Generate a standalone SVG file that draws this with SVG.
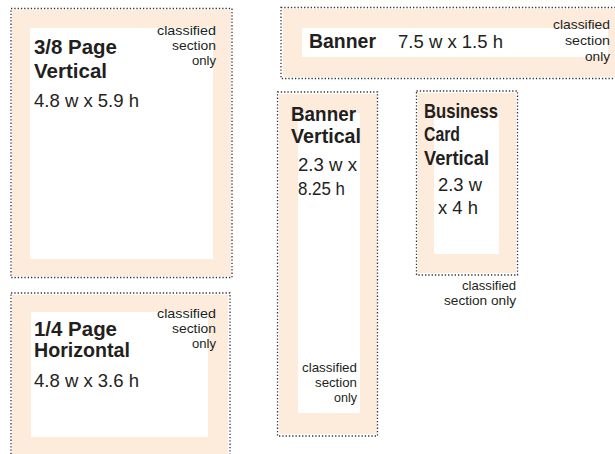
<svg xmlns="http://www.w3.org/2000/svg" width="615" height="454" viewBox="0 0 615 454">
<style>
.dot{fill:none;stroke:#333;stroke-width:1.3;stroke-dasharray:1.3 2}
.peach{fill:#fdebdc}
.white{fill:#fff}
text{font-family:"Liberation Sans Narrow","Liberation Sans",Arial,sans-serif;fill:#231f20}
.t{font-weight:bold;font-size:20.5px}
.t2{font-weight:bold;font-size:19.3px}
.d{font-size:19px}
.c{font-size:13.5px;text-anchor:end}
</style>
<rect width="615" height="454" fill="#fff"/>
<g id="node-38-vertical">
<rect class="peach" x="12" y="10" width="219" height="266"/>
<rect class="white" x="30" y="28" width="183" height="231"/>
<rect class="dot" x="11" y="8.5" width="221" height="269"/>
<text class="t"><tspan x="34" y="54" textLength="83" lengthAdjust="spacingAndGlyphs">3/8 Page</tspan><tspan x="34" y="78" textLength="73" lengthAdjust="spacingAndGlyphs">Vertical</tspan></text>
<text class="d" x="34" y="107" textLength="105" lengthAdjust="spacingAndGlyphs">4.8 w x 5.9 h</text>
<text class="c"><tspan x="216" y="34.5" textLength="59" lengthAdjust="spacingAndGlyphs">classified</tspan><tspan x="216" y="49.7" textLength="44" lengthAdjust="spacingAndGlyphs">section</tspan><tspan x="216" y="64.9" textLength="24" lengthAdjust="spacingAndGlyphs">only</tspan></text>
</g>
<g id="node-14-horizontal">
<rect class="peach" x="12" y="295" width="216" height="170"/>
<rect class="white" x="31" y="312" width="177" height="125"/>
<rect class="dot" x="11" y="293" width="219" height="180"/>
<text class="t2"><tspan x="34" y="335.5" textLength="83" lengthAdjust="spacingAndGlyphs">1/4 Page</tspan><tspan x="34" y="357.3" textLength="96" lengthAdjust="spacingAndGlyphs">Horizontal</tspan></text>
<text class="d" x="34" y="387" textLength="105" lengthAdjust="spacingAndGlyphs">4.8 w x 3.6 h</text>
<text class="c"><tspan x="216" y="317.5" textLength="59" lengthAdjust="spacingAndGlyphs">classified</tspan><tspan x="216" y="332.7" textLength="44" lengthAdjust="spacingAndGlyphs">section</tspan><tspan x="216" y="347.9" textLength="24" lengthAdjust="spacingAndGlyphs">only</tspan></text>
</g>
<g id="node-banner">
<rect class="peach" x="283" y="9" width="340" height="68"/>
<rect class="white" x="302" y="28" width="306" height="29"/>
<rect class="dot" x="281" y="7.5" width="350" height="71"/>
<text class="t" x="309" y="48" textLength="67" lengthAdjust="spacingAndGlyphs">Banner</text>
<text class="d" x="398" y="48" textLength="105" lengthAdjust="spacingAndGlyphs">7.5 w x 1.5 h</text>
<text class="c"><tspan x="610" y="29" textLength="57" lengthAdjust="spacingAndGlyphs">classified</tspan><tspan x="610" y="45" textLength="45" lengthAdjust="spacingAndGlyphs">section</tspan><tspan x="610" y="61" textLength="25" lengthAdjust="spacingAndGlyphs">only</tspan></text>
</g>
<g id="node-banner-vertical">
<rect class="peach" x="279" y="94" width="98" height="340"/>
<rect class="white" x="298" y="113" width="62" height="300"/>
<rect class="dot" x="277.5" y="92" width="100" height="344"/>
<text class="t2"><tspan x="291" y="121" textLength="65" lengthAdjust="spacingAndGlyphs">Banner</tspan><tspan x="291" y="142.8" textLength="70" lengthAdjust="spacingAndGlyphs">Vertical</tspan></text>
<text class="d"><tspan x="298" y="171" textLength="59" lengthAdjust="spacingAndGlyphs">2.3 w x</tspan><tspan x="298" y="195" textLength="47" lengthAdjust="spacingAndGlyphs">8.25 h</tspan></text>
<text class="c"><tspan x="357" y="371.5" textLength="55" lengthAdjust="spacingAndGlyphs">classified</tspan><tspan x="357" y="386.7" textLength="42" lengthAdjust="spacingAndGlyphs">section</tspan><tspan x="357" y="401.9" textLength="23" lengthAdjust="spacingAndGlyphs">only</tspan></text>
</g>
<g id="node-business-card">
<rect class="peach" x="418" y="93" width="98" height="180"/>
<rect class="white" x="434" y="117" width="65" height="137"/>
<rect class="dot" x="416.5" y="91" width="101" height="184"/>
<text class="t"><tspan x="424" y="118" textLength="74" lengthAdjust="spacingAndGlyphs">Business</tspan><tspan x="424" y="141" textLength="36" lengthAdjust="spacingAndGlyphs">Card</tspan><tspan x="424" y="165" textLength="65" lengthAdjust="spacingAndGlyphs">Vertical</tspan></text>
<text class="d"><tspan x="438" y="191" textLength="44" lengthAdjust="spacingAndGlyphs">2.3 w</tspan><tspan x="438" y="214" textLength="40" lengthAdjust="spacingAndGlyphs">x 4 h</tspan></text>
<text class="c"><tspan x="516" y="289.5" textLength="54" lengthAdjust="spacingAndGlyphs">classified</tspan><tspan x="516" y="304.7" textLength="72" lengthAdjust="spacingAndGlyphs">section only</tspan></text>
</g>
<g id="connectors"></g>
</svg>
